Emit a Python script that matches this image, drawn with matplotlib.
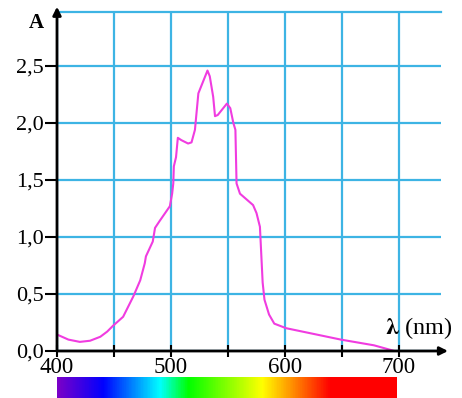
import numpy as np
import matplotlib
matplotlib.use("Agg")
import matplotlib.pyplot as plt
from matplotlib.colors import LinearSegmentedColormap

plt.rcParams["mathtext.fontset"] = "stix"

# absorption spectrum
wavelength = [401, 410, 420, 429, 438, 444, 449, 458, 467, 473, 477, 478, 484, 486,
              490, 499, 501, 502, 502.5, 504.4, 506, 509, 515, 518, 521, 524, 528,
              532, 534, 537, 538.6, 541, 549, 552, 554.7, 556.5, 557.5, 560.5, 572,
              575, 578, 580.4, 582, 586, 590.6, 601, 625, 649, 678, 696]
absorb = [0.14, 0.10, 0.08, 0.09, 0.125, 0.17, 0.22, 0.30, 0.48, 0.62, 0.77, 0.83,
          0.96, 1.08, 1.14, 1.27, 1.38, 1.47, 1.62, 1.70, 1.87, 1.85, 1.82, 1.83,
          1.94, 2.26, 2.36, 2.46, 2.41, 2.23, 2.06, 2.07, 2.17, 2.13, 2.0, 1.94,
          1.47, 1.38, 1.28, 1.21, 1.09, 0.60, 0.45, 0.32, 0.24, 0.20, 0.15, 0.10,
          0.05, 0.0]

xticks_major = [400, 500, 600, 700]
xticks_minor = [450, 550, 650]
yticks = [0.0, 0.5, 1.0, 1.5, 2.0, 2.5]
ylabels = ["0,0", "0,5", "1,0", "1,5", "2,0", "2,5"]

# visible spectrum colour stops (nm, colour)
spec_nm = [400, 440, 490, 515, 580, 610, 640, 700]
spec_col = ["#7a00c8", "#0000ff", "#00ffff", "#00ff00", "#ffff00", "#ff8000",
            "#ff0000", "#ff0000"]

serif = "Liberation Serif"
grid_c = "#3db4e4"
line_c = "#f03ce0"

fig = plt.figure(figsize=(4.62, 3.98), dpi=100)
W, H = 462, 398
ax = fig.add_axes([57 / W, (H - 351) / H, (441 - 57) / W, (351 - 12) / H])
ax.set_xlim(400, 400 + (441 - 57) / 1.14)
ax.set_ylim(0, (351 - 12) / 114)

ax.set_xticks(xticks_major)
ax.set_xticks(xticks_minor, minor=True)
ax.set_xticklabels([str(v) for v in xticks_major], fontfamily=serif, fontsize=16.5)
ax.set_yticks(yticks)
ax.set_yticklabels(ylabels, fontfamily=serif, fontsize=16)
ax.tick_params(axis="x", which="both", direction="inout", length=9, width=1.5,
               pad=0)
ax.tick_params(axis="y", direction="out", length=8.5, width=1.5, pad=1)

ax.grid(True, which="both", color=grid_c, lw=1.6, zorder=0)
ax.set_axisbelow(True)
for s in ["right", "left", "bottom"]:
    ax.spines[s].set_visible(False)
ax.spines["top"].set_color(grid_c)
ax.spines["top"].set_linewidth(1.6)

ax.plot(wavelength, absorb, color=line_c, lw=1.5, zorder=3)

# axes with arrow heads
ax.annotate("", xy=(743, 0), xytext=(400, 0), annotation_clip=False,
            arrowprops=dict(arrowstyle="-|>", color="black", lw=2,
                            mutation_scale=12, shrinkA=0, shrinkB=0), zorder=4)
ax.annotate("", xy=(400, 3.02), xytext=(400, 0), annotation_clip=False,
            arrowprops=dict(arrowstyle="-|>", color="black", lw=2,
                            mutation_scale=12, shrinkA=0, shrinkB=0), zorder=4)

ax.text(382, 2.88, "A", fontfamily=serif, fontweight="bold", fontsize=15,
        ha="center", va="center", clip_on=False)
ax.text(717, 0.2, r"$\mathbf{\lambda}$ (nm)", fontfamily=serif, fontsize=17.5,
        ha="center", va="center", clip_on=False)

# spectrum strip below the axis
cax = fig.add_axes([57 / W, 0, (397 - 57) / W, 21 / H])
grad = np.linspace(400, 698, 400)
cmap = LinearSegmentedColormap.from_list(
    "spec", [((n - 400) / 300, c) for n, c in zip(spec_nm, spec_col)])
cax.imshow(grad[None, :], aspect="auto", cmap=cmap, vmin=400, vmax=700,
           extent=(400, 698, 0, 1))
cax.set_axis_off()

fig.savefig("out.png", dpi=100)
